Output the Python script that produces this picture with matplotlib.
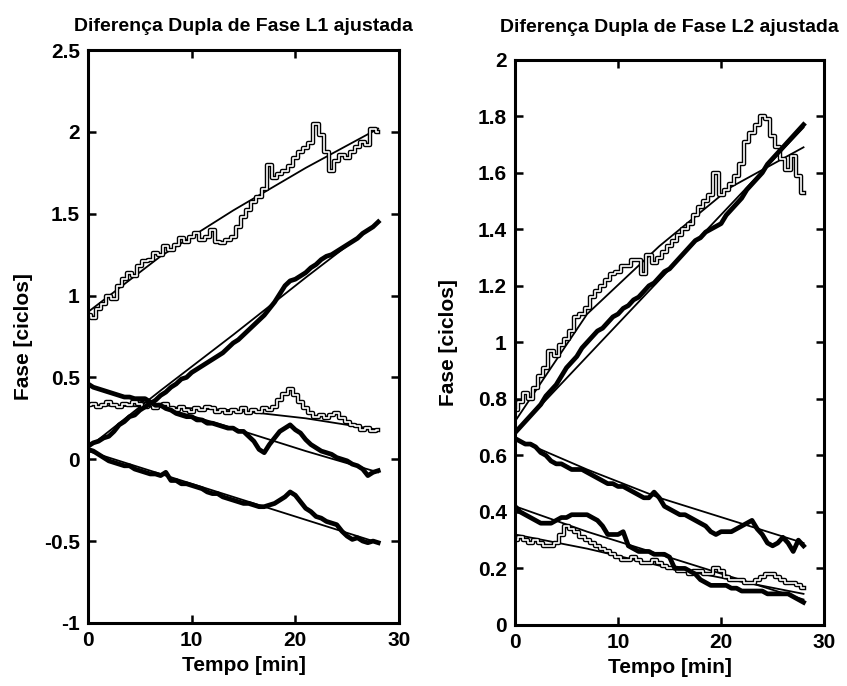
import numpy as np
import matplotlib
matplotlib.use('Agg')
import matplotlib.pyplot as plt
import matplotlib.patheffects as pe

plt.rcParams['font.family'] = ['Liberation Sans', 'DejaVu Sans']
plt.rcParams['font.weight'] = 'bold'
plt.rcParams['axes.titleweight'] = 'bold'
plt.rcParams['axes.labelweight'] = 'bold'

# tempo de amostragem (min), comum a todas as series
t = np.arange(0, 28.01, 0.5)
# instantes onde as curvas ajustadas foram lidas
t_fit = [0, 7, 14, 21, 28]

# ---- L1 ----
l1_a = [0.88, 0.86, 0.92, 0.95, 1.00, 0.98, 1.06, 1.10, 1.14, 1.12,
        1.18, 1.21, 1.22, 1.26, 1.25, 1.30, 1.28, 1.31, 1.35, 1.33,
        1.36, 1.38, 1.34, 1.36, 1.40, 1.33, 1.32, 1.34, 1.36, 1.42,
        1.48, 1.52, 1.57, 1.60, 1.65, 1.80, 1.72, 1.74, 1.76, 1.79,
        1.84, 1.88, 1.90, 1.93, 2.05, 1.98, 1.88, 1.76, 1.82, 1.86,
        1.84, 1.88, 1.91, 1.94, 1.92, 2.02, 2.00]
l1_b = [0.08, 0.10, 0.11, 0.13, 0.14, 0.17, 0.21, 0.23, 0.26, 0.27,
        0.30, 0.32, 0.34, 0.36, 0.39, 0.41, 0.44, 0.46, 0.49, 0.50,
        0.53, 0.55, 0.57, 0.59, 0.61, 0.63, 0.65, 0.68, 0.71, 0.73,
        0.76, 0.79, 0.82, 0.85, 0.88, 0.92, 0.96, 1.01, 1.06, 1.09,
        1.10, 1.12, 1.14, 1.17, 1.19, 1.22, 1.24, 1.25, 1.27, 1.29,
        1.31, 1.33, 1.35, 1.38, 1.40, 1.42, 1.45]
l1_c = [0.33, 0.34, 0.32, 0.33, 0.35, 0.33, 0.32, 0.34, 0.33, 0.35,
        0.34, 0.32, 0.33, 0.31, 0.33, 0.34, 0.31, 0.30, 0.32, 0.30,
        0.29, 0.31, 0.30, 0.32, 0.31, 0.29, 0.30, 0.28, 0.30, 0.29,
        0.31, 0.28, 0.30, 0.29, 0.31, 0.30, 0.32, 0.36, 0.40, 0.43,
        0.39, 0.35, 0.31, 0.28, 0.26, 0.27, 0.25, 0.27, 0.28, 0.25,
        0.23, 0.21, 0.20, 0.18, 0.19, 0.17, 0.18]
l1_d = [0.46, 0.44, 0.43, 0.42, 0.41, 0.40, 0.39, 0.38, 0.38, 0.37,
        0.37, 0.37, 0.35, 0.33, 0.33, 0.31, 0.30, 0.28, 0.27, 0.26,
        0.26, 0.24, 0.24, 0.22, 0.22, 0.21, 0.20, 0.19, 0.19, 0.17,
        0.17, 0.14, 0.11, 0.06, 0.04, 0.09, 0.13, 0.17, 0.19, 0.21,
        0.18, 0.16, 0.12, 0.09, 0.07, 0.05, 0.04, 0.03, 0.01, 0.00,
        -0.01, -0.03, -0.04, -0.06, -0.10, -0.08, -0.07]
l1_e = [0.06, 0.05, 0.03, 0.01, -0.01, -0.02, -0.03, -0.04, -0.04, -0.06,
        -0.07, -0.08, -0.09, -0.09, -0.10, -0.08, -0.13, -0.13, -0.15, -0.15,
        -0.16, -0.17, -0.18, -0.20, -0.21, -0.21, -0.23, -0.24, -0.25, -0.26,
        -0.27, -0.27, -0.28, -0.29, -0.29, -0.28, -0.27, -0.25, -0.23, -0.20,
        -0.22, -0.26, -0.30, -0.32, -0.35, -0.36, -0.38, -0.39, -0.40, -0.44,
        -0.47, -0.49, -0.48, -0.50, -0.51, -0.50, -0.51]
l1_fit_a = [0.90, 1.24, 1.52, 1.78, 2.02]
l1_fit_b = [0.07, 0.42, 0.76, 1.11, 1.45]
l1_fit_c = [0.33, 0.32, 0.30, 0.25, 0.18]
l1_fit_d = [0.45, 0.32, 0.19, 0.05, -0.08]
l1_fit_e = [0.05, -0.09, -0.23, -0.37, -0.51]

# ---- L2 ----
l2_a = [0.76, 0.79, 0.82, 0.80, 0.84, 0.88, 0.91, 0.97, 0.95, 0.99,
        1.01, 1.04, 1.09, 1.10, 1.12, 1.16, 1.18, 1.20, 1.22, 1.24,
        1.25, 1.27, 1.27, 1.29, 1.29, 1.24, 1.31, 1.28, 1.30, 1.32,
        1.34, 1.36, 1.38, 1.40, 1.42, 1.45, 1.48, 1.50, 1.52, 1.60,
        1.52, 1.54, 1.56, 1.59, 1.63, 1.71, 1.74, 1.77, 1.80, 1.79,
        1.73, 1.69, 1.65, 1.61, 1.66, 1.59, 1.53]
l2_b = [0.68, 0.70, 0.72, 0.74, 0.76, 0.78, 0.81, 0.83, 0.85, 0.88,
        0.91, 0.93, 0.95, 0.98, 1.00, 1.02, 1.04, 1.05, 1.07, 1.09,
        1.10, 1.12, 1.13, 1.15, 1.16, 1.18, 1.20, 1.21, 1.23, 1.25,
        1.26, 1.28, 1.30, 1.32, 1.34, 1.36, 1.37, 1.39, 1.40, 1.41,
        1.42, 1.45, 1.47, 1.49, 1.51, 1.54, 1.56, 1.58, 1.60, 1.63,
        1.65, 1.67, 1.69, 1.71, 1.73, 1.75, 1.77]
l2_c = [0.66, 0.65, 0.64, 0.64, 0.63, 0.61, 0.60, 0.58, 0.57, 0.57,
        0.56, 0.55, 0.55, 0.55, 0.54, 0.53, 0.52, 0.51, 0.50, 0.50,
        0.49, 0.49, 0.48, 0.47, 0.46, 0.45, 0.45, 0.47, 0.45, 0.42,
        0.41, 0.40, 0.39, 0.39, 0.38, 0.37, 0.36, 0.35, 0.33, 0.32,
        0.33, 0.33, 0.33, 0.34, 0.35, 0.36, 0.37, 0.34, 0.32, 0.29,
        0.28, 0.29, 0.31, 0.29, 0.26, 0.30, 0.28]
l2_d = [0.42, 0.40, 0.39, 0.38, 0.37, 0.36, 0.36, 0.36, 0.37, 0.38,
        0.38, 0.39, 0.39, 0.39, 0.39, 0.38, 0.37, 0.35, 0.32, 0.32,
        0.32, 0.33, 0.28, 0.27, 0.26, 0.26, 0.26, 0.25, 0.25, 0.25,
        0.24, 0.20, 0.20, 0.20, 0.19, 0.18, 0.16, 0.15, 0.14, 0.14,
        0.14, 0.14, 0.13, 0.13, 0.12, 0.12, 0.12, 0.12, 0.12, 0.11,
        0.11, 0.11, 0.11, 0.11, 0.10, 0.09, 0.08]
l2_e = [0.30, 0.31, 0.30, 0.29, 0.30, 0.29, 0.28, 0.28, 0.29, 0.32,
        0.35, 0.34, 0.33, 0.31, 0.30, 0.29, 0.28, 0.27, 0.26, 0.25,
        0.24, 0.23, 0.23, 0.24, 0.23, 0.22, 0.22, 0.23, 0.22, 0.21,
        0.20, 0.20, 0.19, 0.19, 0.18, 0.19, 0.19, 0.18, 0.18, 0.20,
        0.19, 0.17, 0.16, 0.16, 0.16, 0.15, 0.15, 0.16, 0.17, 0.18,
        0.18, 0.17, 0.16, 0.15, 0.15, 0.14, 0.13]
l2_fit_a = [0.72, 1.10, 1.34, 1.55, 1.69]
l2_fit_b = [0.68, 0.95, 1.22, 1.49, 1.76]
l2_fit_c = [0.66, 0.55, 0.45, 0.37, 0.29]
l2_fit_d = [0.42, 0.33, 0.25, 0.17, 0.09]
l2_fit_e = [0.32, 0.27, 0.21, 0.16, 0.11]

hollow = [pe.Stroke(linewidth=3.2, foreground='black'), pe.Normal()]


def desenha(ax, finos, grossos, ajustes):
    for s in ajustes:
        ax.plot(t_fit, s, color='black', lw=1.3)
    for s in finos:
        ax.plot(t, s, color='white', lw=1.2, drawstyle='steps-mid', path_effects=hollow)
    for s in grossos:
        ax.plot(t, s, color='black', lw=3.4)
    ax.set_xlim(0, 30)
    ax.set_xticks([0, 10, 20, 30])
    ax.set_xticklabels(['0', '10', '20', '30'])
    ax.tick_params(direction='in', top=True, right=True, length=6, width=1.8,
                   labelsize=15, pad=6)
    for sp in ax.spines.values():
        sp.set_linewidth(2.2)
    ax.set_xlabel('Tempo [min]', fontsize=15, labelpad=4)


fig = plt.figure(figsize=(8.47, 6.86), dpi=100)
ax1 = fig.add_axes([0.104, 0.092, 0.367, 0.835])
ax2 = fig.add_axes([0.608, 0.089, 0.365, 0.824])

desenha(ax1, [l1_a, l1_c], [l1_b, l1_d, l1_e],
        [l1_fit_a, l1_fit_b, l1_fit_c, l1_fit_d, l1_fit_e])
ax1.set_ylim(-1, 2.5)
ax1.set_yticks([-1, -0.5, 0, 0.5, 1, 1.5, 2, 2.5])
ax1.set_yticklabels(['-1', '-0.5', '0', '0.5', '1', '1.5', '2', '2.5'])
ax1.set_title('Diferença Dupla de Fase L1 ajustada', fontsize=14, pad=14)
ax1.set_ylabel('Fase [ciclos]', fontsize=15, labelpad=8)

desenha(ax2, [l2_a, l2_e], [l2_b, l2_c, l2_d],
        [l2_fit_a, l2_fit_b, l2_fit_c, l2_fit_d, l2_fit_e])
ax2.set_ylim(0, 2)
ax2.set_yticks([0, 0.2, 0.4, 0.6, 0.8, 1, 1.2, 1.4, 1.6, 1.8, 2])
ax2.set_yticklabels(['0', '0.2', '0.4', '0.6', '0.8', '1', '1.2', '1.4', '1.6', '1.8', '2'])
ax2.set_title('Diferença Dupla de Fase L2 ajustada', fontsize=14, pad=20)
ax2.set_ylabel('Fase [ciclos]', fontsize=15, labelpad=14)

fig.savefig('out.png', dpi=100)
